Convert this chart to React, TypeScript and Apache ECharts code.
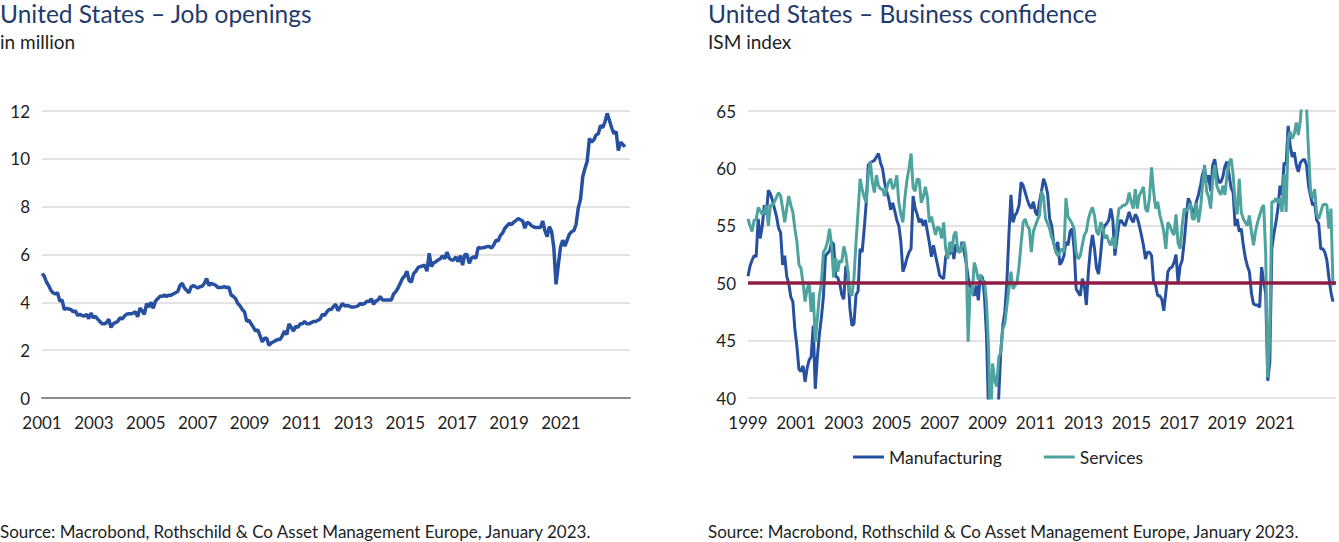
import React, { useEffect, useRef } from "react";
import * as echarts from "echarts";

// ---------- Data ----------
// US job openings, in million, monthly from Jan 2001 to Nov 2022
const jobOpenings: number[] = [
  5.2, 5.1, 4.85, 4.7, 4.5, 4.4, 4.35, 4.4, 4.05, 4.1, 3.7, 3.75,
  3.72, 3.7, 3.6, 3.65, 3.45, 3.5, 3.45, 3.42, 3.5, 3.32, 3.55, 3.35,
  3.42, 3.3, 3.2, 3.1, 3.1, 3.15, 3.3, 2.95, 3.1, 3.15, 3.2, 3.35,
  3.3, 3.42, 3.5, 3.52, 3.52, 3.55, 3.6, 3.4, 3.75, 3.65, 3.5, 3.95,
  3.8, 4.0, 3.75, 4.05, 4.15, 4.25, 4.25, 4.3, 4.25, 4.3, 4.3, 4.35,
  4.4, 4.45, 4.7, 4.8, 4.6, 4.5, 4.4, 4.65, 4.7, 4.65, 4.6, 4.65,
  4.68, 4.8, 5.0, 4.7, 4.8, 4.75, 4.72, 4.62, 4.62, 4.63, 4.65, 4.62,
  4.63, 4.3, 4.25, 4.15, 3.95, 3.85, 3.7, 3.6, 3.2, 3.25, 3.1, 2.95,
  2.8, 2.85, 2.6, 2.35, 2.5, 2.5, 2.2, 2.3, 2.35, 2.4, 2.45, 2.45,
  2.6, 2.8, 2.65, 3.1, 2.95, 2.8, 3.0, 2.95, 3.1, 3.1, 3.2, 3.1,
  3.1, 3.15, 3.2, 3.2, 3.25, 3.3, 3.5, 3.45, 3.6, 3.7, 3.7, 3.83,
  3.92, 3.65, 3.8, 3.95, 3.85, 3.87, 3.85, 3.8, 3.8, 3.82, 3.85, 3.95,
  3.92, 3.95, 4.05, 4.03, 4.15, 3.92, 4.05, 4.1, 4.24, 4.1, 4.1, 4.1,
  4.1, 4.1, 4.35, 4.45, 4.6, 4.8, 5.0, 5.1, 5.3, 4.9, 4.85, 5.2,
  5.3, 5.45, 5.5, 5.52, 5.55, 5.3, 6.05, 5.5, 5.65, 5.7, 5.77, 5.82,
  5.95, 5.82, 6.1, 5.85, 5.77, 5.77, 5.9, 5.7, 5.95, 5.56, 6.0, 6.0,
  5.63, 5.85, 5.9, 5.85, 6.29, 6.27, 6.28, 6.3, 6.33, 6.33, 6.27, 6.4,
  6.6, 6.57, 6.8, 6.9, 7.1, 7.2, 7.3, 7.25, 7.35, 7.42, 7.5, 7.45,
  7.4, 7.1, 7.35, 7.3, 7.2, 7.15, 7.13, 7.13, 7.13, 7.4, 7.0, 6.75,
  7.17, 6.96, 6.3, 4.75, 5.55, 6.3, 6.6, 6.35, 6.6, 6.85, 6.95, 7.0,
  7.25, 7.95, 8.3, 9.25, 9.6, 9.9, 10.85, 10.7, 10.8, 11.0, 11.05, 11.4,
  11.3, 11.55, 11.9, 11.6, 11.3, 11.05, 11.15, 10.35, 10.7, 10.6, 10.5,
];

// ISM indices, monthly from Jan 1999 to Dec 2022
const manufacturing: number[] = [
  50.6, 51.5, 52.0, 52.4, 52.3, 55.6, 53.9, 55.0, 56.8, 56.0, 58.1, 57.8,
  57.2, 56.5, 55.8, 54.8, 54.4, 51.6, 52.4, 50.6, 50.0, 48.8, 48.4, 46.0,
  44.5, 42.5, 42.3, 42.8, 41.4, 42.6, 43.3, 43.6, 46.3, 40.8, 43.5, 45.5,
  47.0, 48.8, 52.4, 52.6, 52.8, 53.6, 53.4, 50.6, 50.5, 50.0, 49.0, 48.6,
  51.5, 51.0, 47.8, 46.3, 46.5, 49.0, 49.3, 53.0, 52.7, 54.7, 57.0, 60.3,
  60.5, 60.6, 60.7, 61.0, 61.3, 60.5, 60.0, 58.8, 58.0, 57.4, 56.4, 57.0,
  56.3, 55.5, 55.0, 53.6, 51.0, 51.5, 52.2, 52.7, 53.0, 57.6, 56.5, 56.0,
  55.3, 55.6, 55.0, 55.5, 54.5, 53.5, 52.3, 53.3, 52.4, 51.6, 50.7, 50.5,
  50.4, 52.3, 52.7, 52.5, 53.6, 52.1, 53.4, 52.8, 52.7, 53.6, 52.8, 51.8,
  50.5, 49.6, 49.2, 48.9, 49.8, 48.5, 50.7, 50.5, 48.9, 45.5, 38.9, 33.1,
  35.6, 35.8, 36.3, 40.1, 44.0, 46.3, 47.5, 50.1, 54.2, 57.7, 55.3, 55.9,
  56.2, 56.8, 58.8, 58.5, 57.9, 57.3, 56.8, 56.5, 57.1, 56.2, 55.9, 57.1,
  58.0, 59.1, 58.6, 57.8, 55.6, 55.0, 53.5, 52.9, 53.6, 51.6, 51.9, 52.4,
  53.6, 53.3, 54.5, 54.75, 53.0, 49.5, 49.2, 48.9, 50.4, 49.8, 48.1, 51.0,
  53.0, 54.2, 53.0, 51.3, 50.8, 52.5, 54.5, 55.0, 55.2, 55.5, 56.5, 55.5,
  52.4, 53.8, 55.2, 55.5, 55.2, 55.0, 55.6, 56.2, 55.6, 55.3, 56.0, 55.7,
  55.0, 54.2, 53.3, 52.1, 52.7, 52.7, 52.4, 50.1, 49.8, 48.9, 48.9, 48.6,
  47.6, 49.2, 51.0, 51.3, 51.4, 51.8, 52.5, 50.0, 51.5, 52.0, 53.6, 55.6,
  57.4, 57.0, 56.1, 56.3, 57.1, 57.7, 58.5, 59.5, 60.0, 58.8, 59.4, 58.0,
  60.3, 60.8, 59.5, 58.8, 58.8, 59.3, 60.2, 60.6, 59.5, 58.3, 57.9, 55.0,
  55.6, 54.5, 54.75, 53.3, 52.2, 51.5, 51.0, 49.1, 48.2, 48.1, 48.1, 47.9,
  51.4, 50.1, 49.1, 41.5, 43.1, 53.0, 54.3, 55.3, 56.5, 58.5, 57.7, 60.5,
  60.3, 63.7, 62.0, 61.0, 61.4, 60.3, 59.7, 60.5, 60.7, 60.8, 60.3, 58.5,
  57.6, 56.8, 57.0, 55.5, 55.2, 53.0, 53.0, 52.7, 52.0, 50.5, 49.2, 48.4,
];

const services: number[] = [
  55.6, 55.0, 54.5, 55.5, 55.5, 56.6, 56.3, 56.0, 56.2, 56.8, 55.0, 56.8,
  56.8, 57.1, 57.5, 57.9, 57.6, 56.5, 55.3, 56.5, 57.6, 56.8, 56.2, 54.75,
  53.6, 51.6, 51.3, 50.0, 48.4, 49.5, 50.0, 47.5, 49.2, 44.9, 46.9, 48.9,
  50.0, 52.7, 53.0, 53.6, 54.75, 53.3, 50.5, 52.2, 51.0, 52.0, 51.8, 53.2,
  52.5, 51.0, 49.2, 48.9, 50.5, 53.6, 56.2, 59.1, 58.2, 57.5, 57.0, 59.5,
  60.6, 58.8, 57.9, 59.4, 58.5, 58.2, 58.2, 57.6, 58.2, 58.8, 59.1, 58.2,
  58.5, 59.4, 57.0, 56.0, 55.3, 57.5, 59.0, 60.0, 61.3, 58.3, 58.0, 59.1,
  59.0, 57.0, 57.5, 58.4, 57.5, 55.3, 55.8, 55.0, 54.2, 54.9, 54.75, 53.9,
  55.3, 53.0, 52.1, 53.6, 52.7, 54.2, 54.5, 52.8, 52.7, 53.3, 53.6, 52.5,
  44.9, 49.6, 49.0, 51.8, 51.2, 50.3, 50.7, 50.2, 50.2, 48.4, 44.4, 37.3,
  43.0, 41.6, 41.0, 43.5, 44.0, 46.0, 46.5, 48.0, 49.5, 51.0, 49.5, 49.8,
  50.1, 51.5, 53.5, 55.3, 55.6, 55.0, 54.75, 52.7, 54.5, 55.0, 55.5, 55.9,
  58.0, 57.5, 55.6, 55.2, 54.75, 54.0, 53.5, 52.7, 52.4, 52.7, 53.0, 52.7,
  57.4, 55.8, 55.5, 55.2, 54.75, 52.7, 52.1, 52.4, 53.3, 54.2, 54.5, 55.6,
  56.2, 56.6, 55.9, 54.5, 54.2, 55.3, 55.0, 53.9, 54.2, 53.6, 53.3, 54.0,
  53.0, 55.0, 56.5, 56.6, 56.8, 56.8, 57.0, 57.9, 57.1, 56.5, 58.2, 56.5,
  57.65, 58.0, 58.4, 56.5, 56.2, 57.5, 60.1, 58.0, 56.5, 57.1, 56.0, 55.3,
  54.5, 53.0, 55.3, 55.0, 54.5, 54.2, 56.0, 53.5, 53.0, 55.0, 56.5, 56.3,
  56.5, 57.0, 55.6, 55.6, 57.0, 55.3, 56.5, 58.5, 60.3, 58.0, 57.5, 56.5,
  59.1, 60.3, 58.5, 58.0, 57.7, 58.5, 57.7, 59.4, 60.5, 60.85, 59.5, 57.0,
  56.0, 59.1, 56.2, 55.6, 55.3, 55.0, 55.9, 54.5, 53.3, 54.5, 55.3, 55.9,
  56.5, 56.8, 52.5, 41.8, 45.4, 57.1, 57.1, 57.4, 57.0, 57.4, 56.2, 59.5,
  56.2, 62.6, 63.2, 62.6, 63.0, 64.0, 62.9, 64.2, 66.5, 68.0, 65.5, 61.5,
  58.0, 57.4, 58.2, 56.0, 55.6, 56.2, 56.8, 56.9, 56.8, 54.75, 56.5, 49.8,
];

const jobStartYear = 2001;
const ismStartYear = 1999;
const lastJobYearLabel = 2021;
const lastIsmYearLabel = 2021;
const ismThreshold = 50;

const leftTitle = "United States – Job openings";
const leftSubtitle = "in million";
const rightTitle = "United States – Business confidence";
const rightSubtitle = "ISM index";
const sourceText = "Source: Macrobond, Rothschild & Co Asset Management Europe, January 2023.";

// ---------- Styles ----------
const FONT = "Lato, 'Noto Sans', sans-serif";
const TITLE_COLOR = "#1f3b6e";
const TEXT_COLOR = "#1e1e1e";
const BLUE = "#2750a0";
const TEAL = "#4fa39f";
const RED = "#8e1e45";
const GRID_COLOR = "#dadada";

export default function App() {
  const ref = useRef<HTMLDivElement | null>(null);

  useEffect(() => {
    document.body.style.margin = "0";
    if (!ref.current) return;
    const chart = echarts.init(ref.current, undefined, { renderer: "svg" });

    const jobPts = jobOpenings.map((v, i) => [i / 12, v]);
    const manPts = manufacturing.map((v, i) => [i / 12, v]);
    const srvPts = services.map((v, i) => [i / 12, v]);

    const labelStyle = { fontSize: 17, color: TEXT_COLOR, fontFamily: FONT };

    const option: any = {
      animation: false,
      backgroundColor: "#ffffff",
      grid: [
        { left: 42, top: 111, width: 588, height: 287 },
        { left: 748, top: 111, width: 589, height: 287 },
      ],
      xAxis: [
        { gridIndex: 0, type: "value", min: 0, max: 22.02, show: false, position: "bottom" },
        {
          gridIndex: 0, type: "value", min: 0, max: 22.66, interval: 2, position: "bottom",
          axisLine: { show: true, lineStyle: { color: "#8c8c8c", width: 2 } },
          axisTick: { show: false }, splitLine: { show: false },
          axisLabel: {
            ...labelStyle, margin: 16,
            formatter: (v: number) => (jobStartYear + v <= lastJobYearLabel ? String(jobStartYear + v) : ""),
          },
        },
        { gridIndex: 1, type: "value", min: 0, max: 24.04, show: false, position: "bottom" },
        {
          gridIndex: 1, type: "value", min: 0, max: 24.54, interval: 2, position: "bottom",
          axisLine: { show: false }, axisTick: { show: false }, splitLine: { show: false },
          axisLabel: {
            ...labelStyle, margin: 16,
            formatter: (v: number) => (ismStartYear + v <= lastIsmYearLabel ? String(ismStartYear + v) : ""),
          },
        },
      ],
      yAxis: [
        {
          gridIndex: 0, type: "value", min: 0, max: 12, interval: 2,
          axisLine: { show: false }, axisTick: { show: false },
          splitLine: { show: true, lineStyle: { color: GRID_COLOR, width: 1.5 } },
          axisLabel: { ...labelStyle, margin: 12, padding: [0, 0, 7, 0] },
        },
        {
          gridIndex: 1, type: "value", min: 40, max: 65, interval: 5,
          axisLine: { show: false }, axisTick: { show: false },
          splitLine: { show: true, lineStyle: { color: GRID_COLOR, width: 1.5 } },
          axisLabel: { ...labelStyle, margin: 12, padding: [0, 0, 7, 0] },
        },
      ],
      legend: {
        data: ["Manufacturing", "Services"],
        left: 853, top: 448, padding: 0,
        itemWidth: 31, itemHeight: 3, itemGap: 42, icon: "rect",
        textStyle: { fontSize: 17.5, color: TEXT_COLOR, fontFamily: FONT },
        selectedMode: false,
      },
      series: [
        {
          name: "Job openings", type: "line", xAxisIndex: 0, yAxisIndex: 0,
          data: jobPts, showSymbol: false, symbol: "none",
          lineStyle: { color: BLUE, width: 3.5 }, itemStyle: { color: BLUE },
          silent: true,
        },
        {
          name: "Manufacturing", type: "line", xAxisIndex: 2, yAxisIndex: 1,
          data: manPts, showSymbol: false, symbol: "none", clip: true,
          lineStyle: { color: BLUE, width: 3 }, itemStyle: { color: BLUE },
          silent: true,
        },
        {
          name: "Services", type: "line", xAxisIndex: 2, yAxisIndex: 1,
          data: srvPts, showSymbol: false, symbol: "none", clip: true,
          lineStyle: { color: TEAL, width: 3 }, itemStyle: { color: TEAL },
          silent: true,
        },
        {
          name: "Threshold", type: "line", xAxisIndex: 2, yAxisIndex: 1,
          data: [], silent: true,
          markLine: {
            silent: true, symbol: "none", label: { show: false },
            lineStyle: { color: RED, width: 3.5, type: "solid" },
            data: [{ yAxis: ismThreshold }],
          },
        },
      ],
      graphic: [
        { type: "text", x: 0, y: 13, style: { text: leftTitle, fill: TITLE_COLOR, fontSize: 24.5, lineHeight: 24, fontFamily: FONT, verticalAlign: "middle" } },
        { type: "text", x: 0, y: 41, style: { text: leftSubtitle, fill: TEXT_COLOR, fontSize: 19, fontFamily: FONT, verticalAlign: "middle" } },
        { type: "text", x: 708, y: 13, style: { text: rightTitle, fill: TITLE_COLOR, fontSize: 24.5, lineHeight: 24, fontFamily: FONT, verticalAlign: "middle" } },
        { type: "text", x: 708, y: 41, style: { text: rightSubtitle, fill: TEXT_COLOR, fontSize: 19, fontFamily: FONT, verticalAlign: "middle" } },
        { type: "text", x: 0, y: 531, style: { text: sourceText, fill: TEXT_COLOR, fontSize: 17, fontFamily: FONT, verticalAlign: "middle" } },
        { type: "text", x: 708, y: 531, style: { text: sourceText, fill: TEXT_COLOR, fontSize: 17, fontFamily: FONT, verticalAlign: "middle" } },
      ],
    };

    chart.setOption(option);
    return () => chart.dispose();
  }, []);

  return (
    <div
      ref={ref}
      style={{ position: "absolute", left: 0, top: 0, width: 1339, height: 542 }}
    />
  );
}
